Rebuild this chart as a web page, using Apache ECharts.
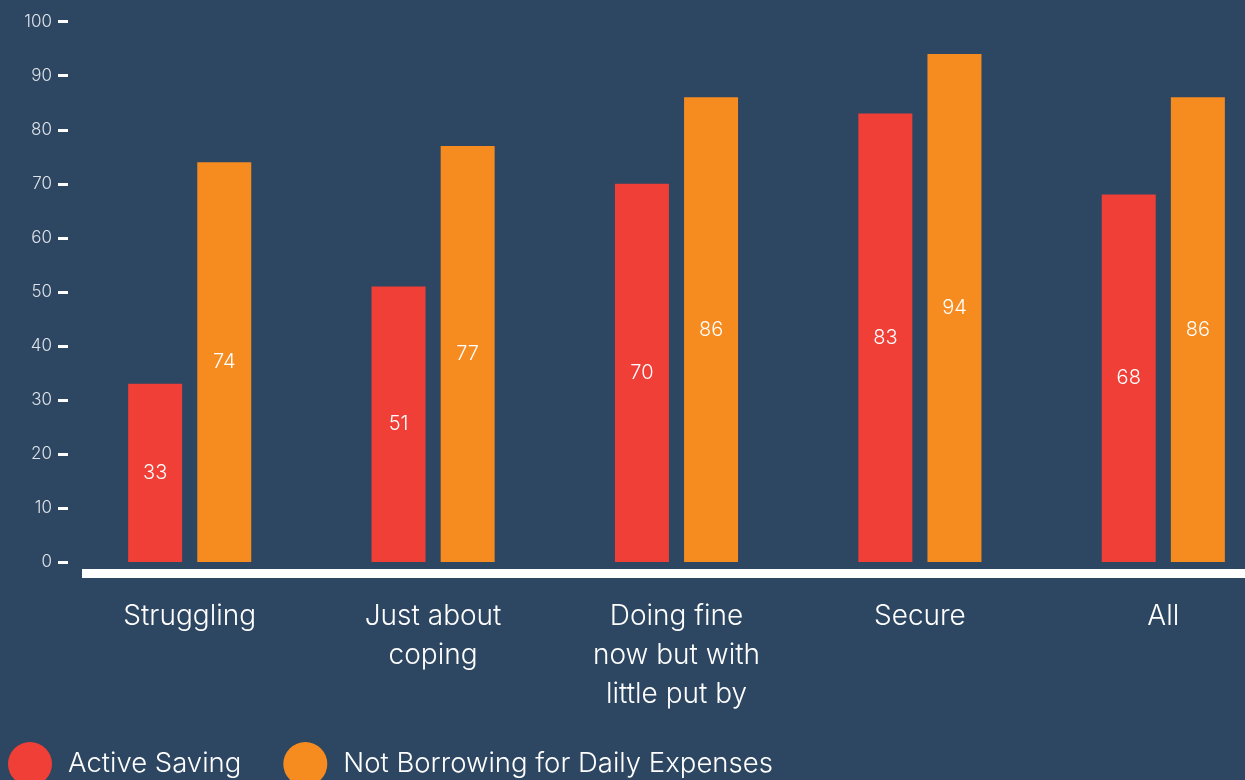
<!DOCTYPE html>
<html>
<head>
<meta charset="utf-8">
<script src="https://cdn.jsdelivr.net/npm/echarts@6/dist/echarts.min.js"></script>
<style>
  html, body { margin: 0; padding: 0; background: #2d4661; }
  #chart { width: 1245px; height: 780px; }
</style>
</head>
<body>
<div id="chart"></div>
<script>
// Share of each group (%) by financial situation
const categories = ['Struggling', 'Just about\ncoping', 'Doing fine\nnow but with\nlittle put by', 'Secure', 'All'];
const activeSaving = [33, 51, 70, 83, 68];
const notBorrowing = [74, 77, 86, 94, 86];
const seriesNames = ['Active Saving', 'Not Borrowing for Daily Expenses'];
const yTicks = [0, 10, 20, 30, 40, 50, 60, 70, 80, 90, 100];

const FONT = 'Inter, Lato, sans-serif';
const chart = echarts.init(document.getElementById('chart'));

const valueLabel = {
  show: true,
  position: 'inside',
  color: '#ffffff',
  fontFamily: FONT,
  fontWeight: 300,
  fontSize: 20
};

chart.setOption({
  backgroundColor: '#2d4661',
  animation: false,
  // plot area runs past the right edge of the canvas
  grid: { left: 68, width: 1217, top: 21.7, bottom: 218, containLabel: false, outerBoundsMode: 'none' },
  legend: {
    data: seriesNames,
    left: 8,
    top: 742,
    padding: 0,
    icon: 'circle',
    itemWidth: 44,
    itemHeight: 44,
    itemGap: 42,
    textStyle: { color: '#ffffff', fontFamily: FONT, fontWeight: 300, fontSize: 27.5, padding: [0, 0, 0, 11] }
  },
  xAxis: {
    type: 'category',
    data: categories,
    axisLine: { show: false },
    axisTick: { show: false },
    axisLabel: {
      color: '#ffffff',
      fontFamily: FONT,
      fontWeight: 300,
      fontSize: 28,
      lineHeight: 39,
      margin: 35,
      interval: 0
    }
  },
  yAxis: {
    type: 'value',
    min: yTicks[0],
    max: yTicks[yTicks.length - 1],
    interval: 10,
    splitLine: { show: false },
    axisLine: { show: false },
    axisTick: { show: true, length: 10, lineStyle: { color: '#ffffff', width: 3 } },
    axisLabel: { color: '#dde2e8', fontFamily: FONT, fontWeight: 300, fontSize: 17, margin: 16 }
  },
  series: [
    {
      name: seriesNames[0],
      type: 'bar',
      data: activeSaving,
      barWidth: 54,
      barGap: '28%',
      itemStyle: { color: '#ef3f37' },
      label: valueLabel
    },
    {
      name: seriesNames[1],
      type: 'bar',
      data: notBorrowing,
      barWidth: 54,
      itemStyle: { color: '#f68b20' },
      label: valueLabel
    }
  ]
});

// Thick white baseline drawn just beneath the zero line
const zeroY = chart.convertToPixel({ yAxisIndex: 0 }, 0);
chart.setOption({
  graphic: [{
    type: 'rect',
    silent: true,
    shape: { x: 82, y: zeroY + 7, width: 1245 - 82, height: 9 },
    style: { fill: '#ffffff' }
  }]
});
</script>
</body>
</html>
